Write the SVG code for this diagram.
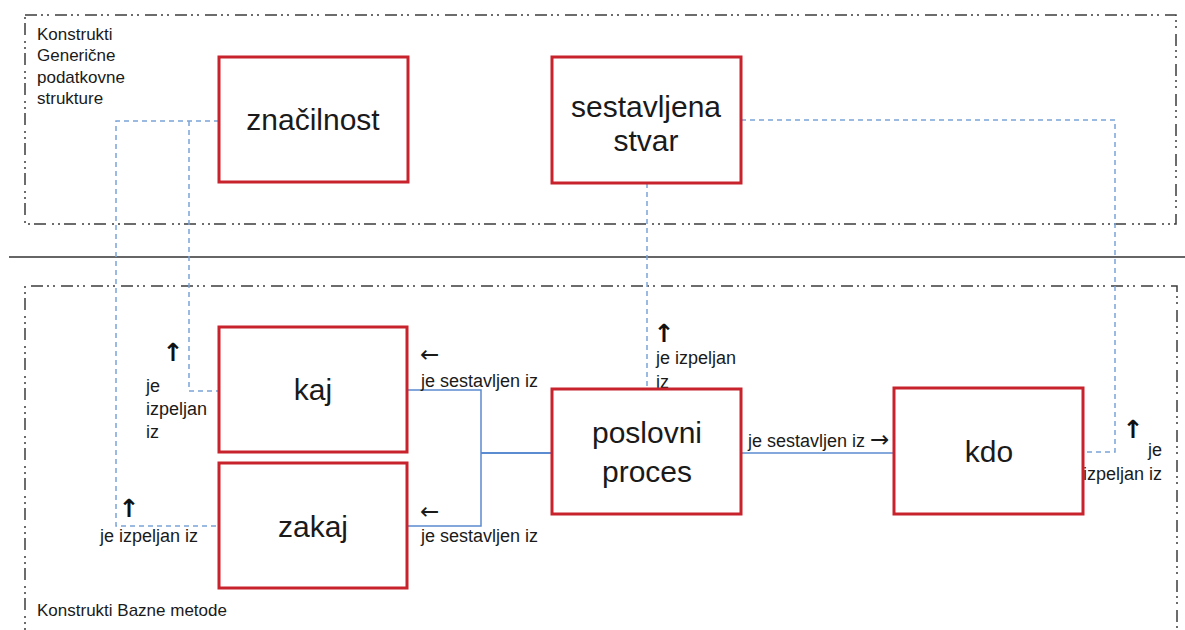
<svg xmlns="http://www.w3.org/2000/svg" width="1185" height="630" viewBox="0 0 1185 630">
  <style>
    .frame { fill: none; stroke: #3c3c3c; stroke-width: 1.5; stroke-dasharray: 12 4 2 4 2 6; }
    .sep { stroke: #333333; stroke-width: 1.5; }
    .box { fill: #ffffff; stroke: #c8222c; stroke-width: 3; }
    .derive { fill: none; stroke: #7ba4d8; stroke-width: 1.5; stroke-dasharray: 5 4; }
    .compose { fill: none; stroke: #5b8bd0; stroke-width: 1.5; }
    .compose-main { fill: none; stroke: #5b8bd0; stroke-width: 2.2; }
    text { font-family: "Liberation Sans", "DejaVu Sans", sans-serif; fill: #1a1a1a; }
    .big { font-size: 30px; text-anchor: middle; }
    .small { font-size: 17px; }
    .rel { font-size: 18px; }
    .up { font-family: "DejaVu Sans", sans-serif; font-size: 25px; font-weight: bold; fill: #111111; text-anchor: middle; }
    .side { font-family: "DejaVu Sans", sans-serif; font-size: 23px; fill: #1a1a1a; }
  </style>

  <!-- container frames and separator -->
  <g id="frames">
    <rect class="frame" x="25" y="15" width="1151" height="209"/>
    <path class="frame" d="M25,640 V286 H1177 V640"/>
    <line class="sep" x1="9" y1="257" x2="1185" y2="257"/>
    <text class="small" x="37" y="39.5">Konstrukti</text>
    <text class="small" x="37" y="61">Generične</text>
    <text class="small" x="37" y="82.5">podatkovne</text>
    <text class="small" x="37" y="104">strukture</text>
    <text class="small" x="37" y="616">Konstrukti Bazne metode</text>
  </g>

  <!-- relations between constructs -->
  <g id="connectors">
    <path class="derive" d="M219,121 H116 V526 H219"/>
    <path class="derive" d="M189,121 V391 H219"/>
    <path class="derive" d="M647,183 V389"/>
    <path class="derive" d="M741,120 H1115 V452 H1083"/>
    <path class="compose" d="M407,390 H481 V526 H407"/>
    <path class="compose-main" d="M481,453 H552"/>
    <path class="compose" d="M741,453 H894"/>
  </g>

  <!-- relation labels -->
  <g id="labels">
    <text class="up" x="173" y="361">↑</text>
    <text class="rel" x="146" y="392">je</text>
    <text class="rel" x="146" y="415">izpeljan</text>
    <text class="rel" x="146" y="438">iz</text>

    <text class="up" x="129" y="517">↑</text>
    <text class="rel" x="100" y="542">je izpeljan iz</text>

    <text class="side" x="420" y="362">←</text>
    <text class="rel" x="421" y="387">je sestavljen iz</text>
    <text class="side" x="420" y="519">←</text>
    <text class="rel" x="421" y="542">je sestavljen iz</text>

    <text class="up" x="664" y="342">↑</text>
    <text class="rel" x="656" y="364">je izpeljan</text>
    <text class="rel" x="656" y="388">iz</text>

    <text class="rel" x="748" y="447">je sestavljen iz <tspan class="side">→</tspan></text>

    <text class="up" x="1133" y="438">↑</text>
    <text class="rel" x="1162" y="456" text-anchor="end">je</text>
    <text class="rel" x="1162" y="480" text-anchor="end">izpeljan iz</text>
  </g>

  <g id="node-znacilnost">
    <rect class="box" x="219" y="57" width="189" height="125"/>
    <text class="big" x="313" y="130">značilnost</text>
  </g>

  <g id="node-sestavljena-stvar">
    <rect class="box" x="552" y="57" width="189" height="126"/>
    <text class="big" x="646" y="117">sestavljena</text>
    <text class="big" x="646" y="151">stvar</text>
  </g>

  <g id="node-kaj">
    <rect class="box" x="219" y="327" width="188" height="125"/>
    <text class="big" x="313" y="400">kaj</text>
  </g>

  <g id="node-zakaj">
    <rect class="box" x="219" y="463" width="188" height="125"/>
    <text class="big" x="313" y="537">zakaj</text>
  </g>

  <g id="node-poslovni-proces">
    <rect class="box" x="552" y="389" width="189" height="125"/>
    <text class="big" x="647" y="443">poslovni</text>
    <text class="big" x="647" y="482">proces</text>
  </g>

  <g id="node-kdo">
    <rect class="box" x="894" y="388" width="189" height="126"/>
    <text class="big" x="989" y="462">kdo</text>
  </g>
</svg>
